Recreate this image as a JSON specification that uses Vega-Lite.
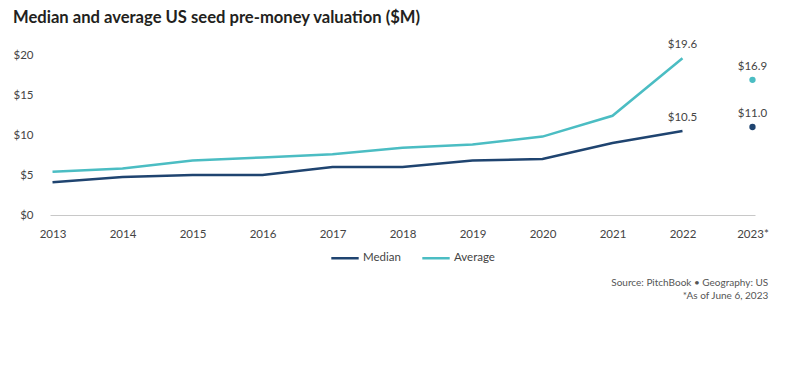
{
  "$schema": "https://vega.github.io/schema/vega-lite/v6.json",
  "padding": {"left": 12, "top": 9, "right": 30, "bottom": 5},
  "title": {"text": "Median and average US seed pre-money valuation ($M)", "anchor": "start", "font": "Lato", "fontSize": 16.6, "fontWeight": "bold", "color": "#231f20", "offset": 13},
  "config": {"view": {"stroke": null}, "font": "Lato"},
  "resolve": {"legend": {"color": "independent"}},
  "vconcat": [
    {
      "width": 705,
      "height": 160,
      "title": {"text": ["Source: PitchBook  •  Geography: US", "*As of June 6, 2023"], "orient": "bottom", "anchor": "end", "frame": "bounds", "font": "Lato", "fontSize": 10, "fontWeight": "normal", "color": "#555", "lineHeight": 13, "offset": 14},
      "data": {"values": [
        {"year": "2013", "series": "Median", "value": 4.1},
        {"year": "2014", "series": "Median", "value": 4.75},
        {"year": "2015", "series": "Median", "value": 5.0},
        {"year": "2016", "series": "Median", "value": 5.0},
        {"year": "2017", "series": "Median", "value": 6.0},
        {"year": "2018", "series": "Median", "value": 6.0},
        {"year": "2019", "series": "Median", "value": 6.8},
        {"year": "2020", "series": "Median", "value": 7.0},
        {"year": "2021", "series": "Median", "value": 9.0},
        {"year": "2022", "series": "Median", "value": 10.5},
        {"year": "2023*", "series": "Median", "value": 11.0},
        {"year": "2013", "series": "Average", "value": 5.4},
        {"year": "2014", "series": "Average", "value": 5.8},
        {"year": "2015", "series": "Average", "value": 6.8},
        {"year": "2016", "series": "Average", "value": 7.2},
        {"year": "2017", "series": "Average", "value": 7.6},
        {"year": "2018", "series": "Average", "value": 8.4},
        {"year": "2019", "series": "Average", "value": 8.8},
        {"year": "2020", "series": "Average", "value": 9.8},
        {"year": "2021", "series": "Average", "value": 12.4},
        {"year": "2022", "series": "Average", "value": 19.6},
        {"year": "2023*", "series": "Average", "value": 16.9}
      ]},
      "encoding": {
        "x": {"field": "year", "type": "ordinal", "scale": {"type": "point", "padding": 0.036},
          "axis": {"title": null, "labelAngle": 0, "ticks": false, "domain": false, "labelPadding": 13, "labelFont": "Lato", "labelFontSize": 11.5, "labelColor": "#444"}},
        "y": {"field": "value", "type": "quantitative", "scale": {"domain": [0, 20], "nice": false},
          "axis": {"title": null, "values": [0, 5, 10, 15, 20], "format": "$d", "ticks": false, "domain": false, "labelPadding": 17, "labelFont": "Lato", "labelFontSize": 11.5, "labelColor": "#444",
            "grid": true, "gridColor": "#c8c8c8", "gridWidth": 1, "gridOpacity": {"condition": {"test": "datum.value === 0", "value": 1}, "value": 0}}},
        "color": {"field": "series", "type": "nominal", "scale": {"domain": ["Median", "Average"], "range": ["#1f4470", "#4bbdc3"]},
          "legend": {"title": null, "orient": "none", "legendX": 280, "legendY": 188, "direction": "horizontal", "symbolType": "stroke", "symbolSize": 750, "symbolStrokeWidth": 2.5, "labelFont": "Lato", "labelFontSize": 11.5, "labelColor": "#444", "columnPadding": 16, "labelOffset": 3}}
      },
      "layer": [
        {"transform": [{"filter": "datum.year !== '2023*'"}], "mark": {"type": "line", "strokeWidth": 2.5}},
        {"transform": [{"filter": "datum.year === '2023*'"}], "mark": {"type": "point", "filled": true, "size": 40, "opacity": 1}},
        {"transform": [{"filter": "datum.year === '2022' || datum.year === '2023*'"}], "mark": {"type": "text", "baseline": "bottom", "dy": -8, "font": "Lato", "fontSize": 11.5, "color": "#444"},
          "encoding": {"text": {"field": "value", "type": "quantitative", "format": "$.1f"}, "color": {"value": "#444"}}}
      ]
    }
  ]
}
